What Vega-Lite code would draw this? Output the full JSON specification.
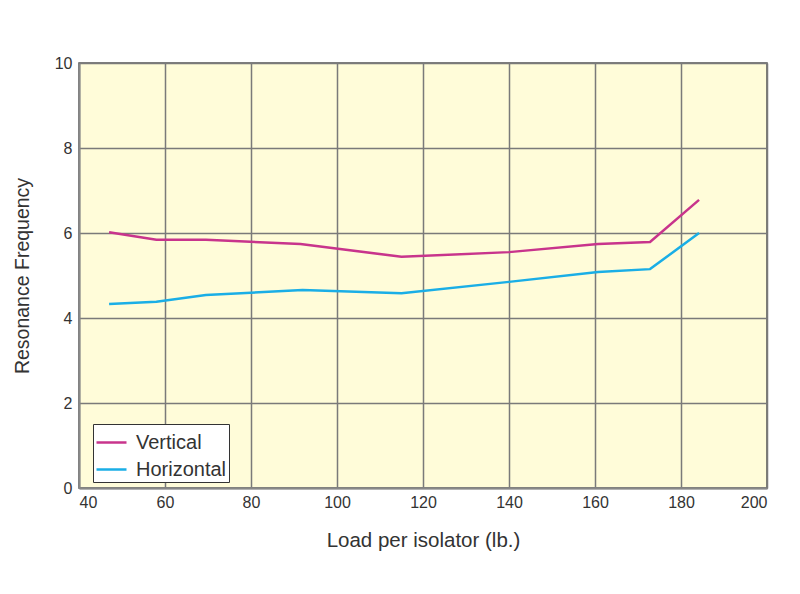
{
  "$schema": "https://vega.github.io/schema/vega-lite/v6.json",
  "width": 688,
  "height": 425,
  "autosize": "none",
  "padding": {"left": 79, "top": 63, "right": 33, "bottom": 106},
  "background": "white",
  "data": {
    "values": [
      {"load": 47, "freq": 6.02, "dir": "Vertical"},
      {"load": 58, "freq": 5.84, "dir": "Vertical"},
      {"load": 69.5, "freq": 5.84, "dir": "Vertical"},
      {"load": 91.5, "freq": 5.74, "dir": "Vertical"},
      {"load": 115, "freq": 5.44, "dir": "Vertical"},
      {"load": 140, "freq": 5.55, "dir": "Vertical"},
      {"load": 160.7, "freq": 5.74, "dir": "Vertical"},
      {"load": 172.8, "freq": 5.79, "dir": "Vertical"},
      {"load": 184.2, "freq": 6.78, "dir": "Vertical"},
      {"load": 47, "freq": 4.33, "dir": "Horizontal"},
      {"load": 58, "freq": 4.38, "dir": "Horizontal"},
      {"load": 69.5, "freq": 4.54, "dir": "Horizontal"},
      {"load": 92, "freq": 4.66, "dir": "Horizontal"},
      {"load": 115, "freq": 4.58, "dir": "Horizontal"},
      {"load": 140, "freq": 4.85, "dir": "Horizontal"},
      {"load": 160.7, "freq": 5.08, "dir": "Horizontal"},
      {"load": 172.8, "freq": 5.15, "dir": "Horizontal"},
      {"load": 184.2, "freq": 6.0, "dir": "Horizontal"}
    ]
  },
  "config": {
    "font": "Liberation Sans",
    "view": {"fill": "#fffcd9", "stroke": "#555555", "strokeWidth": 1.5},
    "axis": {
      "grid": true,
      "gridColor": "#7a7a7a",
      "gridWidth": 1.5,
      "gridOpacity": 1,
      "ticks": false,
      "labelFont": "Liberation Sans",
      "labelFontSize": 16,
      "labelColor": "#333333",
      "titleFont": "Liberation Sans",
      "titleFontWeight": "normal",
      "titleColor": "#333333",
      "domainColor": "#888888",
      "domainWidth": 2
    }
  },
  "mark": {"type": "line", "strokeWidth": 2.5},
  "encoding": {
    "x": {
      "field": "load",
      "type": "quantitative",
      "scale": {"domain": [40, 200], "nice": false, "zero": false},
      "axis": {
        "values": [40, 60, 80, 100, 120, 140, 160, 180, 200],
        "title": "Load per isolator (lb.)",
        "titleFontSize": 20.5,
        "labelPadding": 6,
        "titlePadding": 20
      }
    },
    "y": {
      "field": "freq",
      "type": "quantitative",
      "scale": {"domain": [0, 10], "nice": false},
      "axis": {
        "values": [0, 2, 4, 6, 8, 10],
        "title": "Resonance Frequency",
        "titleFontSize": 19.5,
        "labelPadding": 7,
        "titlePadding": 22
      }
    },
    "color": {
      "field": "dir",
      "type": "nominal",
      "sort": ["Vertical", "Horizontal"],
      "scale": {"domain": ["Vertical", "Horizontal"], "range": ["#c8348c", "#1aaee6"]},
      "legend": {
        "title": null,
        "orient": "none",
        "legendX": 14,
        "legendY": 361,
        "fillColor": "white",
        "strokeColor": "#333333",
        "padding": 2,
        "symbolType": "stroke",
        "symbolSize": 900,
        "symbolStrokeWidth": 2.5,
        "labelFontSize": 20,
        "labelColor": "#333333",
        "labelFont": "Liberation Sans",
        "rowPadding": -4,
        "labelOffset": 8
      }
    }
  }
}
